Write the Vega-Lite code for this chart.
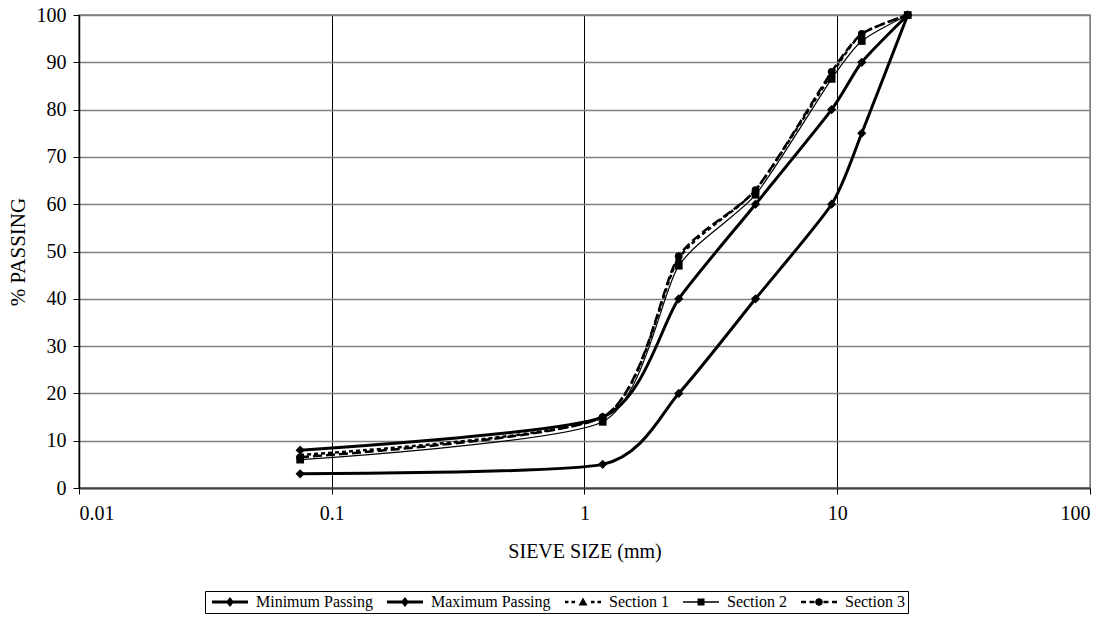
{
  "$schema": "https://vega.github.io/schema/vega-lite/v6.json",
  "width": 1011,
  "height": 473,
  "autosize": "none",
  "padding": {"left": 79, "top": 15, "right": 19, "bottom": 137},
  "background": "white",
  "config": {
    "font": "Liberation Serif",
    "view": {"stroke": "#808080", "strokeWidth": 1.5},
    "axis": {"labelFont": "Liberation Serif", "titleFont": "Liberation Serif", "labelColor": "black", "titleColor": "black", "titleFontWeight": "normal"}
  },
  "data": {
    "values": [
      {"series": "Minimum Passing", "size": 0.075, "passing": 3},
      {"series": "Minimum Passing", "size": 1.18, "passing": 5},
      {"series": "Minimum Passing", "size": 2.36, "passing": 20},
      {"series": "Minimum Passing", "size": 4.75, "passing": 40},
      {"series": "Minimum Passing", "size": 9.5, "passing": 60},
      {"series": "Minimum Passing", "size": 12.5, "passing": 75},
      {"series": "Minimum Passing", "size": 19, "passing": 100},
      {"series": "Maximum Passing", "size": 0.075, "passing": 8},
      {"series": "Maximum Passing", "size": 1.18, "passing": 15},
      {"series": "Maximum Passing", "size": 2.36, "passing": 40},
      {"series": "Maximum Passing", "size": 4.75, "passing": 60},
      {"series": "Maximum Passing", "size": 9.5, "passing": 80},
      {"series": "Maximum Passing", "size": 12.5, "passing": 90},
      {"series": "Maximum Passing", "size": 19, "passing": 100},
      {"series": "Section 1", "size": 0.075, "passing": 7},
      {"series": "Section 1", "size": 1.18, "passing": 15},
      {"series": "Section 1", "size": 2.36, "passing": 48.5},
      {"series": "Section 1", "size": 4.75, "passing": 63},
      {"series": "Section 1", "size": 9.5, "passing": 87.5},
      {"series": "Section 1", "size": 12.5, "passing": 96},
      {"series": "Section 1", "size": 19, "passing": 100},
      {"series": "Section 2", "size": 0.075, "passing": 6},
      {"series": "Section 2", "size": 1.18, "passing": 14},
      {"series": "Section 2", "size": 2.36, "passing": 47},
      {"series": "Section 2", "size": 4.75, "passing": 62},
      {"series": "Section 2", "size": 9.5, "passing": 86.5},
      {"series": "Section 2", "size": 12.5, "passing": 94.5},
      {"series": "Section 2", "size": 19, "passing": 100},
      {"series": "Section 3", "size": 0.075, "passing": 6.5},
      {"series": "Section 3", "size": 1.18, "passing": 15},
      {"series": "Section 3", "size": 2.36, "passing": 49},
      {"series": "Section 3", "size": 4.75, "passing": 63},
      {"series": "Section 3", "size": 9.5, "passing": 88},
      {"series": "Section 3", "size": 12.5, "passing": 96},
      {"series": "Section 3", "size": 19, "passing": 100}
    ]
  },
  "encoding": {
    "x": {
      "field": "size", "type": "quantitative",
      "scale": {"type": "log", "domain": [0.01, 100], "nice": false},
      "axis": {
        "values": [0.01, 0.1, 1, 10, 100], "format": "~g",
        "title": "SIEVE SIZE (mm)", "titleFontSize": 20, "titlePadding": 18,
        "labelFontSize": 20, "labelPadding": 9,
        "grid": true, "gridWidth": 1,
        "gridColor": {"condition": {"test": "datum.value >= 100", "value": "#808080"}, "value": "black"},
        "tickColor": "black", "tickSize": 6, "tickWidth": 1,
        "domainColor": "#404040", "domainWidth": 2
      }
    },
    "y": {
      "field": "passing", "type": "quantitative",
      "scale": {"domain": [0, 100], "nice": false},
      "axis": {
        "values": [0, 10, 20, 30, 40, 50, 60, 70, 80, 90, 100],
        "title": "% PASSING", "titleFontSize": 21, "titlePadding": 8,
        "labelFontSize": 20, "labelPadding": 7,
        "grid": true, "gridColor": "#808080", "gridWidth": 1.5,
        "tickColor": "black", "tickSize": 6, "tickWidth": 1,
        "domainColor": "black", "domainWidth": 1.5
      }
    }
  },
  "layer": [
    {
      "transform": [{"filter": "datum.series == 'Minimum Passing' || datum.series == 'Maximum Passing'"}],
      "mark": {"type": "line", "interpolate": "cardinal", "tension": 0.35, "color": "black", "strokeWidth": 3},
      "encoding": {"detail": {"field": "series"}}
    },
    {
      "transform": [{"filter": "datum.series == 'Section 2'"}],
      "mark": {"type": "line", "interpolate": "cardinal", "tension": 0.35, "color": "black", "strokeWidth": 1.2},
      "encoding": {"detail": {"field": "series"}}
    },
    {
      "transform": [{"filter": "datum.series == 'Section 1'"}],
      "mark": {"type": "line", "interpolate": "cardinal", "tension": 0.35, "color": "black", "strokeWidth": 2.5, "strokeDash": [4, 3]},
      "encoding": {"detail": {"field": "series"}}
    },
    {
      "transform": [{"filter": "datum.series == 'Section 3'"}],
      "mark": {"type": "line", "interpolate": "cardinal", "tension": 0.35, "color": "black", "strokeWidth": 2.5, "strokeDash": [9, 4]},
      "encoding": {"detail": {"field": "series"}}
    },
    {
      "transform": [{"filter": "datum.series == 'Minimum Passing' || datum.series == 'Maximum Passing'"}],
      "mark": {"type": "point", "filled": true, "color": "black", "opacity": 1, "size": 85, "shape": "diamond"}
    },
    {
      "transform": [{"filter": "datum.series == 'Section 1'"}],
      "mark": {"type": "point", "filled": true, "color": "black", "opacity": 1, "size": 60, "shape": "triangle-up"}
    },
    {
      "transform": [{"filter": "datum.series == 'Section 2'"}],
      "mark": {"type": "point", "filled": true, "color": "black", "opacity": 1, "size": 60, "shape": "square"}
    },
    {
      "transform": [{"filter": "datum.series == 'Section 3'"}],
      "mark": {"type": "point", "filled": true, "color": "black", "opacity": 1, "size": 60, "shape": "circle"}
    },
    {
      "mark": {"type": "point", "filled": true, "color": "black", "opacity": 0},
      "encoding": {
        "shape": {
          "field": "series", "type": "nominal",
          "scale": {"domain": ["Minimum Passing", "Maximum Passing", "Section 1", "Section 2", "Section 3"],
                    "range": [
                      "M-3.6,-0.3L3.6,-0.3L3.6,0.3L-3.6,0.3ZM0,-1L0.8,0L0,1L-0.8,0Z",
                      "M-3.6,-0.3L3.6,-0.3L3.6,0.3L-3.6,0.3ZM0,-1L0.8,0L0,1L-0.8,0Z",
                      "M-3.6,-0.25L-2.9,-0.25L-2.9,0.25L-3.6,0.25ZM-2.3,-0.25L-1.6,-0.25L-1.6,0.25L-2.3,0.25ZM1.6,-0.25L2.3,-0.25L2.3,0.25L1.6,0.25ZM2.9,-0.25L3.6,-0.25L3.6,0.25L2.9,0.25ZM0,-0.9L0.9,0.7L-0.9,0.7Z",
                      "M-3.6,-0.13L3.6,-0.13L3.6,0.13L-3.6,0.13ZM-0.7,-0.7L0.7,-0.7L0.7,0.7L-0.7,0.7Z",
                      "M-3.6,-0.25L-2.6,-0.25L-2.6,0.25L-3.6,0.25ZM-1.9,-0.25L-0.9,-0.25L-0.9,0.25L-1.9,0.25ZM0.9,-0.25L1.9,-0.25L1.9,0.25L0.9,0.25ZM2.6,-0.25L3.6,-0.25L3.6,0.25L2.6,0.25ZM0.8,0L0.57,0.57L0,0.8L-0.57,0.57L-0.8,0L-0.57,-0.57L0,-0.8L0.57,-0.57Z"
                    ]},
          "legend": {
            "title": null, "orient": "none", "legendX": 126, "legendY": 576,
            "direction": "horizontal", "columns": 5,
            "strokeColor": "black", "padding": 3, "columnPadding": 10,
            "symbolSize": 100, "symbolOffset": 14, "labelOffset": 18,
            "labelFont": "Liberation Serif", "labelFontSize": 16, "labelColor": "black",
            "symbolFillColor": "black", "symbolStrokeColor": "black", "symbolOpacity": 1, "symbolStrokeWidth": 1,
            "encode": {
              "symbols": {
                "update": {
                  "fill": {"value": "black"},
                  "stroke": {"value": "black"},
                  "opacity": {"value": 1},
                  "strokeWidth": {"value": 0.8}
                }
              }
            }
          }
        }
      }
    }
  ]
}
